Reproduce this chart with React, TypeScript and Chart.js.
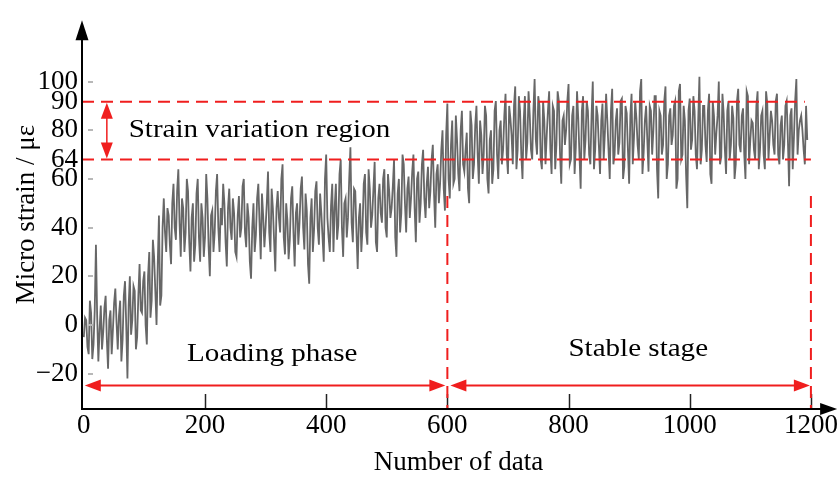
import React, { useEffect, useRef } from "react";
import { Chart, registerables } from "chart.js";

Chart.register(...registerables);

// readings are listed at every 4th data number (A) and the ones in between (B, offset by 2)
const SAMPLE_STEP = 4;
const HALF_STEP = 2;

// micro strain readings (με)
const loadingEarlyA = [
  -5, 2, -12, 5, -8, 33, -15, 8, -3, 12, -18, 6, -2, 15, -10, 10, -6, 18, -22, 20,
  2, 14, -5, 25, 5, 22, -8, 30, 10, 28, 0, 45, 12,
];
const loadingEarlyB = [
  3, -9, 10, -14, 6, 4, -2, -10, 7, -6, 2, -12, 9, 1, 4, -15, 12, 0, 8, -4,
  16, -10, 12, 6, 18, 0, 20, 3, 35, 14, 25, 8, 40,
];
const loadingMidA = [
  52, 30, 45, 25, 58, 35, 64, 28, 48, 38,
  55, 22, 50, 33, 60, 26, 44, 36, 52, 20,
  47, 38, 62, 30, 41, 50, 24, 56, 35, 46,
  28, 53, 40, 60, 32, 44, 19, 50, 37, 58,
  27, 45, 40, 63, 30, 48, 22, 55, 38, 66,
  29, 43, 35, 57, 24, 50, 42, 61, 31, 47,
  17, 52, 39, 59, 33, 46, 26, 70, 36, 49,
  30, 58, 41, 68, 28, 52, 44, 73, 34, 55,
];
const loadingMidB = [
  38, 48, 33, 50, 40, 55, 42, 52, 30, 60,
  34, 44, 26, 54, 36, 50, 28, 62, 32, 45,
  30, 55, 40, 48, 58, 34, 48, 40, 52, 30,
  45, 36, 57, 38, 50, 26, 40, 30, 52, 42,
  54, 32, 50, 38, 56, 35, 48, 44, 60, 36,
  50, 27, 52, 38, 46, 33, 56, 40, 54, 25,
  44, 30, 55, 40, 54, 36, 60, 44, 30, 58,
  48, 35, 62, 40, 50, 36, 60, 42, 56, 38,
];
const loadingLateA = [
  23, 50, 40, 62, 33, 56, 45, 67, 30, 58,
  42, 64, 36, 55, 48, 68, 28, 60, 46, 66,
  38, 61, 52, 70, 34, 63, 50, 72, 44, 65,
  55, 74, 40, 66, 58, 80, 47, 91,
];
const loadingLateB = [
  44, 30, 58, 38, 64, 40, 56, 34, 52, 46,
  60, 40, 62, 44, 57, 36, 54, 38, 70, 50,
  56, 44, 63, 48, 60, 42, 66, 52, 58, 48,
  68, 54, 62, 50, 72, 56, 78, 60,
];
const stableEarlyA = [
  52, 84, 60, 76, 55, 88, 63, 79, 50, 82,
  66, 90, 58, 78, 70, 86, 54, 80, 64, 92,
  60, 84, 72, 95, 62,
];
const stableEarlyB = [
  74, 58, 86, 62, 80, 66, 72, 56, 88, 60,
  82, 70, 84, 62, 90, 60, 76, 58, 88, 70,
  80, 66, 86, 70, 90,
];
const stableMainA = [
  85, 66, 98, 72, 88, 60, 94, 75, 86, 68,
  101, 70, 90, 64, 84, 78, 96, 62, 88, 74,
  92, 58, 86, 80, 99, 68, 90, 73, 85, 56,
  94, 76, 88, 66, 100, 72, 86, 62, 91, 79,
  84, 60, 97, 70, 89, 75, 93, 65, 87, 58,
  95, 77, 85, 68, 101, 71, 90, 63, 88, 80,
  94, 52, 86, 74, 98, 66, 89, 78, 92, 60,
  99, 70, 84, 48, 93, 76, 88, 64, 102, 72,
  90, 67, 95, 58, 86, 79, 100, 69, 87, 62,
  92, 74, 85, 66, 97, 71, 89, 60, 94, 76,
  83, 68, 96, 72, 88, 64, 91, 78, 84, 70,
  95, 66, 86, 74, 92, 57, 89, 77, 101, 80,
  86, 72, 90,
];
const stableMainB = [
  78, 90, 64, 94, 70, 84, 68, 96, 72, 88,
  76, 94, 68, 92, 66, 88, 72, 90, 64, 96,
  70, 84, 74, 92, 66, 86, 62, 96, 70, 88,
  68, 92, 70, 86, 64, 90, 74, 84, 68, 95,
  72, 88, 66, 84, 70, 92, 60, 90, 72, 86,
  66, 92, 74, 96, 62, 84, 76, 90, 70, 94,
  64, 88, 70, 92, 60, 86, 74, 90, 56, 96,
  68, 90, 62, 88, 72, 94, 70, 84, 66, 90,
  74, 88, 62, 92, 70, 86, 66, 95, 72, 88,
  68, 90, 60, 92, 74, 86, 70, 96, 66, 84,
  72, 90, 64, 86, 70, 96, 68, 88, 74, 92,
  70, 82, 68, 90, 76, 86, 64, 92, 70, 84,
  80, 66, 76,
];
const readingsA = [...loadingEarlyA, ...loadingMidA, ...loadingLateA, ...stableEarlyA, ...stableMainA];
const readingsB = [...loadingEarlyB, ...loadingMidB, ...loadingLateB, ...stableEarlyB, ...stableMainB];

// axis ticks
const xTickValues = [0, 200, 400, 600, 800, 1000, 1200];
const yTickValues = [-20, 0, 20, 40, 60, 68, 80, 91.7, 100];
const yTickLabels = ["\u221220", "0", "20", "40", "60", "64", "80", "90", "100"];
const yMarkValues = [-20, 0, 20, 40, 60, 80, 100];

// annotation values
const upperLimit = 91.7; // labelled 90
const lowerLimit = 68; // labelled 64
const phaseBoundary = 600;
const stableEnd = 1200;
const phaseArrowLevel = -24.8;
const dividerTop = 53;
const regionArrowX = 38;

const RED = "#f01e1e";
const FONT = "'Liberation Serif', 'Times New Roman', serif";
const TEXT_STRETCH = 1.14;

function arrowHead(ctx: CanvasRenderingContext2D, tx: number, ty: number, dx: number, dy: number, len: number, half: number) {
  const bx = tx - dx * len;
  const by = ty - dy * len;
  const nx = -dy;
  const ny = dx;
  ctx.beginPath();
  ctx.moveTo(tx, ty);
  ctx.lineTo(bx + nx * half, by + ny * half);
  ctx.lineTo(bx - nx * half, by - ny * half);
  ctx.closePath();
  ctx.fill();
}

function doubleArrowH(ctx: CanvasRenderingContext2D, x1: number, x2: number, y: number) {
  ctx.beginPath();
  ctx.moveTo(x1 + 8, y);
  ctx.lineTo(x2 - 8, y);
  ctx.stroke();
  arrowHead(ctx, x1, y, -1, 0, 16, 6);
  arrowHead(ctx, x2, y, 1, 0, 16, 6);
}

function doubleArrowV(ctx: CanvasRenderingContext2D, x: number, y1: number, y2: number) {
  ctx.beginPath();
  ctx.moveTo(x, y1 + 8);
  ctx.lineTo(x, y2 - 8);
  ctx.stroke();
  arrowHead(ctx, x, y1, 0, -1, 16, 6);
  arrowHead(ctx, x, y2, 0, 1, 16, 6);
}

function stretchedText(ctx: CanvasRenderingContext2D, text: string, x: number, y: number, align: "left" | "center") {
  ctx.save();
  ctx.translate(x, y);
  ctx.scale(TEXT_STRETCH, 1);
  ctx.textAlign = align;
  ctx.fillText(text, 0, 0);
  ctx.restore();
}

const overlayPlugin = {
  id: "overlay",
  afterDraw(chart: any) {
    const { ctx, chartArea: a, scales } = chart;
    const xs = scales.x;
    const ys = scales.y;
    const px = (v: number) => xs.getPixelForValue(v);
    const py = (v: number) => ys.getPixelForValue(v);
    ctx.save();

    ctx.strokeStyle = "#b8b8b8";
    ctx.lineWidth = 2;
    for (const v of yMarkValues) {
      const yy = Math.round(py(v));
      ctx.beginPath();
      ctx.moveTo(a.left + 6, yy);
      ctx.lineTo(a.left + 11, yy);
      ctx.stroke();
    }
    ctx.strokeStyle = "#222";
    ctx.lineWidth = 1.5;
    for (const v of xTickValues.slice(1)) {
      const xx = Math.round(px(v)) + 0.5;
      ctx.beginPath();
      ctx.moveTo(xx, a.bottom);
      ctx.lineTo(xx, a.bottom - 15);
      ctx.stroke();
    }

    ctx.strokeStyle = RED;
    ctx.lineWidth = 2;
    ctx.setLineDash([12, 7]);
    ctx.beginPath();
    ctx.moveTo(a.left, py(upperLimit));
    ctx.lineTo(px(1190), py(upperLimit));
    ctx.moveTo(a.left, py(lowerLimit));
    ctx.lineTo(px(stableEnd), py(lowerLimit));
    ctx.moveTo(px(phaseBoundary), py(dividerTop));
    ctx.lineTo(px(phaseBoundary), a.bottom);
    ctx.moveTo(px(stableEnd), py(dividerTop));
    ctx.lineTo(px(stableEnd), a.bottom);
    ctx.stroke();
    ctx.setLineDash([]);

    ctx.fillStyle = RED;
    ctx.lineWidth = 2;
    const ay = py(phaseArrowLevel);
    doubleArrowH(ctx, px(0) + 1, px(phaseBoundary) - 2, ay);
    doubleArrowH(ctx, px(phaseBoundary) + 3, px(stableEnd) - 1, ay);
    ctx.lineWidth = 1.5;
    doubleArrowV(ctx, px(regionArrowX), py(upperLimit) + 1, py(lowerLimit) - 1);

    ctx.fillStyle = "#000";
    ctx.font = `25.5px ${FONT}`;
    ctx.textBaseline = "middle";
    stretchedText(ctx, "Strain variation region", px(74), py(80), "left");
    stretchedText(ctx, "Loading phase", px(311), py(-11.9), "center");
    stretchedText(ctx, "Stable stage", px(915), py(-9.9), "center");

    ctx.strokeStyle = "#000";
    ctx.fillStyle = "#000";
    ctx.lineWidth = 2;
    ctx.beginPath();
    ctx.moveTo(a.left, a.bottom + 1);
    ctx.lineTo(a.left, a.top + 12);
    ctx.moveTo(a.left - 1, a.bottom);
    ctx.lineTo(a.right - 8, a.bottom);
    ctx.stroke();
    arrowHead(ctx, a.left, a.top, 0, -1, 20, 6.5);
    arrowHead(ctx, a.right + 2, a.bottom, 1, 0, 17, 6);
    ctx.restore();
  },
};

export default function App() {
  const canvasRef = useRef<HTMLCanvasElement | null>(null);

  useEffect(() => {
    const canvas = canvasRef.current;
    if (!canvas) return;
    const tickFont = { family: FONT, size: 27 };
    const series = readingsA.flatMap((v, i) => [
      { x: i * SAMPLE_STEP, y: v },
      { x: i * SAMPLE_STEP + HALF_STEP, y: readingsB[i] },
    ]);
    const chart = new Chart(canvas, {
      type: "line",
      data: {
        datasets: [
          {
            data: series,
            borderColor: "rgba(10,10,10,0.62)",
            borderWidth: 1.8,
            pointRadius: 0,
            tension: 0,
            fill: false,
          },
        ],
      },
      options: {
        animation: false,
        responsive: false,
        devicePixelRatio: 1,
        layout: { padding: { left: 0, right: 3, top: 13, bottom: 0 } },
        plugins: { legend: { display: false }, tooltip: { enabled: false } },
        scales: {
          x: {
            type: "linear",
            min: -3,
            max: 1240,
            afterBuildTicks: (s: any) => {
              s.ticks = xTickValues.map((v) => ({ value: v }));
            },
            afterFit: (s: any) => {
              s.height = 69;
            },
            grid: { display: false, drawTicks: false },
            border: { display: false },
            ticks: {
              font: tickFont,
              color: "#000",
              padding: 1,
              maxRotation: 0,
              autoSkip: false,
              callback: (v: any) => String(v),
            },
            title: {
              display: true,
              text: "Number of data",
              font: tickFont,
              color: "#000",
              padding: { top: 0, bottom: -1 },
            },
          },
          y: {
            type: "linear",
            min: -34.5,
            max: 125.2,
            afterBuildTicks: (s: any) => {
              s.ticks = yTickValues.map((v) => ({ value: v }));
            },
            afterFit: (s: any) => {
              s.width = 82;
            },
            grid: { display: false, drawTicks: false },
            border: { display: false },
            ticks: {
              font: tickFont,
              color: "#000",
              padding: 4,
              autoSkip: false,
              callback: (v: any) => {
                const i = yTickValues.indexOf(Number(v));
                return i >= 0 ? yTickLabels[i] : "";
              },
            },
            title: {
              display: true,
              text: "Micro strain / \u03bc\u03b5",
              font: tickFont,
              color: "#000",
              padding: { top: 11, bottom: 0 },
            },
          },
        },
      },
      plugins: [overlayPlugin],
    } as any);
    return () => chart.destroy();
  }, []);

  return (
    <div style={{ position: "absolute", left: 0, top: 0, width: 839, height: 478, background: "#fff" }}>
      <canvas ref={canvasRef} width={839} height={478} />
    </div>
  );
}
